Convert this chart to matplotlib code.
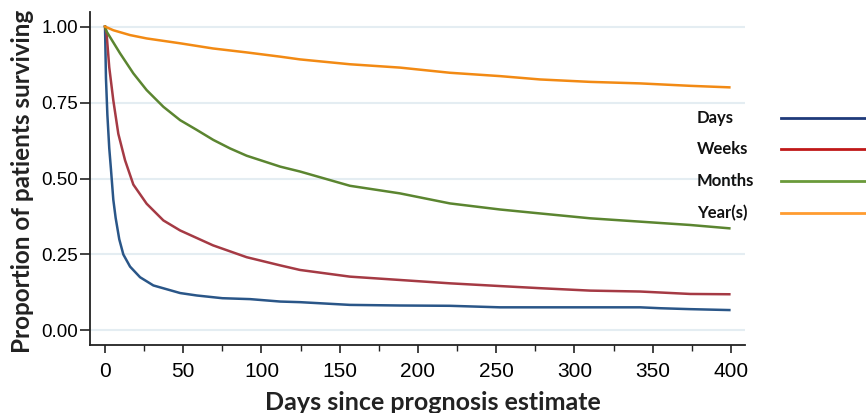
import matplotlib
matplotlib.use("Agg")
import matplotlib.pyplot as plt
from matplotlib.lines import Line2D
from matplotlib.ticker import MultipleLocator

# survival (day, proportion)
days_t = [0, 0.6, 1.5, 2.7, 3.8, 5.3, 6.8, 9.1, 11.7, 16, 22.4, 30.9, 48, 58.6, 75, 92.7,
          112, 124.6, 156.5, 188.5, 220.4, 252.4, 278, 310, 342, 355, 374, 399]
days_s = [1.0, 0.83, 0.71, 0.60, 0.53, 0.43, 0.37, 0.30, 0.25, 0.21, 0.175, 0.148, 0.123, 0.115,
          0.106, 0.103, 0.095, 0.093, 0.084, 0.082, 0.081, 0.076, 0.076, 0.076, 0.076, 0.073, 0.07, 0.067]

weeks_t = [0, 1, 2.7, 5.3, 8.5, 12.8, 18.1, 26.6, 37.3, 48, 69, 90.5, 112, 124.6, 156.5, 188.5,
           220.4, 252.4, 278, 310, 342, 374, 399]
weeks_s = [1.0, 0.977, 0.866, 0.757, 0.647, 0.56, 0.48, 0.417, 0.362, 0.329, 0.28, 0.241, 0.214,
           0.199, 0.177, 0.166, 0.155, 0.146, 0.139, 0.131, 0.128, 0.120, 0.119]

months_t = [0, 1.1, 9.6, 18.1, 26.6, 37.3, 48, 58.6, 69.2, 79.9, 90.5, 112, 124.6, 156.5, 188.5,
            220.4, 252.4, 278, 310, 342, 374, 399]
months_s = [1.0, 0.983, 0.912, 0.846, 0.791, 0.736, 0.692, 0.660, 0.627, 0.599, 0.575, 0.539, 0.523,
            0.476, 0.451, 0.418, 0.398, 0.385, 0.369, 0.358, 0.347, 0.336]

years_t = [0, 5.3, 16, 26.6, 37.3, 48, 69, 90.5, 112, 124.6, 156.5, 188.5, 220.4, 252.4, 278,
           310, 342, 374, 399]
years_s = [1.0, 0.988, 0.972, 0.961, 0.953, 0.945, 0.928, 0.915, 0.901, 0.892, 0.876, 0.865, 0.848,
           0.837, 0.826, 0.818, 0.813, 0.805, 0.800]

names = ["Days", "Weeks", "Months", "Year(s)"]
colors = ["#2a5688", "#a53a44", "#5b8530", "#f28a14"]
legend_colors = ["#1f3a7a", "#c01818", "#6a9a3a", "#ff9c30"]

fig = plt.figure(figsize=(8.66, 4.13), dpi=100)
ax = fig.add_axes([90/866, 1 - 345/413, (745 - 90)/866, (345 - 12)/413])

for t, s, c in zip([days_t, weeks_t, months_t, years_t],
                   [days_s, weeks_s, months_s, years_s], colors):
    ax.plot(t, s, color=c, lw=1.8)

ax.set_xlim(-9.6, 409)
ax.set_ylim(-0.048, 1.048)
ax.set_yticks([0, 0.25, 0.5, 0.75, 1.0])
ax.set_yticklabels(["0.00", "0.25", "0.50", "0.75", "1.00"])
ax.set_xticks(range(0, 401, 50))
ax.xaxis.set_minor_locator(MultipleLocator(25))
ax.grid(axis="y", color="#e4edf2", lw=1.5)
ax.set_axisbelow(True)

for sp in ["top", "right"]:
    ax.spines[sp].set_visible(False)
for sp in ["left", "bottom"]:
    ax.spines[sp].set_linewidth(1.3)
    ax.spines[sp].set_color("#222222")

ax.tick_params(axis="y", length=7, width=1.2, color="#222222", labelsize=13.5,
               labelfontfamily="Liberation Sans", pad=1.5)
ax.tick_params(axis="x", which="major", length=6, width=1.2, color="#222222", labelsize=15,
               labelfontfamily="Liberation Sans", pad=6)
ax.tick_params(axis="x", which="minor", length=4, width=1.0, color="#222222")

ax.set_ylabel("Proportion of patients surviving", fontsize=17.5, fontweight="bold",
              family="Lato", color="#222222")
ax.yaxis.set_label_coords(-0.085, 0.49)
fig.text(433/866, 1 - 403/413, "Days since prognosis estimate", ha="center", va="center",
         fontsize=18, fontweight="bold", family="Lato", color="#222222")

# legend outside the axes, text first, then line
ys = [118, 149, 181, 213]
for name, c, y in zip(names, legend_colors, ys):
    fig.text(697/866, 1 - y/413, name, ha="left", va="center", fontsize=12,
             fontweight="bold", family="Lato", color="#111111")
    fig.add_artist(Line2D([781/866, 1.0], [1 - y/413, 1 - y/413], color=c, lw=2,
                          transform=fig.transFigure))

fig.savefig("out.png", dpi=100)
